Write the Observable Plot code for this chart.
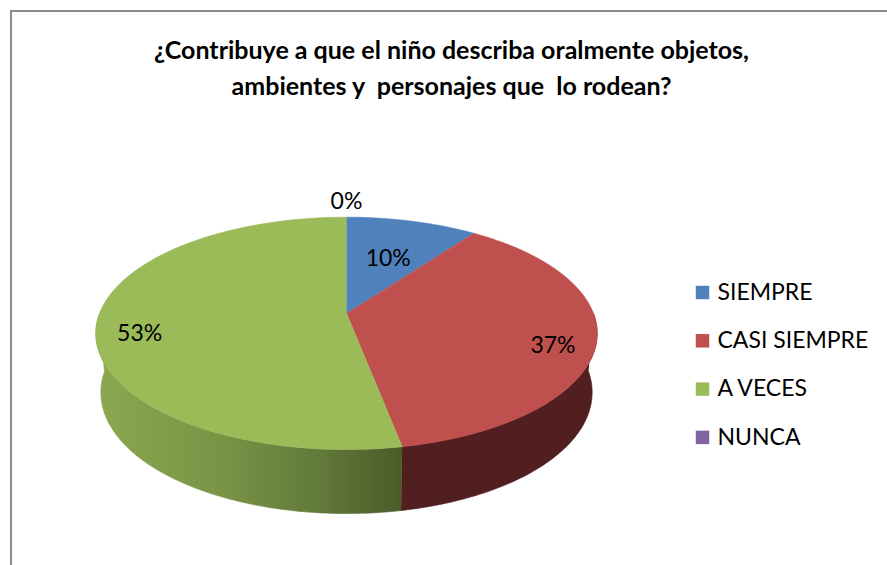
<!DOCTYPE html>
<html>
<head>
<meta charset="utf-8">
<script src="https://cdn.jsdelivr.net/npm/d3@7"></script>
<script src="https://cdn.jsdelivr.net/npm/@observablehq/plot@0.6"></script>
<style>
  html, body { margin: 0; padding: 0; background: #fff; }
  #wrap { position: relative; width: 887px; height: 565px; overflow: hidden; background: #fff; }
  #frame { position: absolute; left: 10px; top: 10px; width: 900px; height: 600px; border-left: 2px solid #8c8c8c; border-top: 2px solid #8c8c8c; }
  #title { position: absolute; left: 0; top: 31px; width: 903px; text-align: center; font-family: Lato, sans-serif; font-weight: bold; font-size: 25px; line-height: 36px; color: #000; white-space: pre; }
  #chart { position: absolute; left: 0; top: 110px; }
</style>
</head>
<body>
<div id="wrap">
  <div id="frame"></div>
  <div id="title"></div>
  <div id="chart"></div>
</div>
<script>
const titleLines = ["¿Contribuye a que el niño describa oralmente objetos,", "ambientes y  personajes que  lo rodean?"];
const categories = ["SIEMPRE", "CASI SIEMPRE", "A VECES", "NUNCA"];
const values = [10, 37, 53, 0];
const labels = ["10%", "37%", "53%", "0%"];
const colors = ["#4F81BD", "#C0504D", "#9BBB59", "#8064A2"];
const sideFills = ["#2c4a70", "#511F20", "url(#greenSide)", "#4a3a60"];

document.getElementById("title").textContent = titleLines.join("\n");

// geometry of the 3D ellipse (layout)
const W = 887, H = 565, top0 = 110;
const cx = 346, cy = 313, rx = 247, ay = 112.8, persp = 0.171;
const depth0 = 58, depth1 = 6, shrink = 0.98;

function proj(phiDeg, f = 1, bottom = false) {
  const p = phiDeg * Math.PI / 180;
  const u = Math.sin(p) * f, v = -Math.cos(p) * f;
  const s = 1 / (1 - persp * v);
  if (!bottom) return {x: cx + rx * u * s, y: cy + ay * v * s};
  return {x: cx + rx * shrink * u * s, y: cy + ay * v * s + depth0 + depth1 * v};
}
function arc(a0, a1, bottom) {
  const pts = [];
  const n = Math.max(2, Math.ceil(Math.abs(a1 - a0)));
  for (let i = 0; i <= n; i++) pts.push(proj(a0 + (a1 - a0) * i / n, 1, bottom));
  return pts;
}

const total = d3.sum(values);
let acc = 0;
const slices = values.map((v, i) => {
  const a0 = acc / total * 360;
  acc += v;
  const a1 = acc / total * 360;
  return {i, v, a0, a1};
});

const marks = [];
// sides
for (const s of slices) {
  const lo = Math.max(s.a0, 90), hi = Math.min(s.a1, 270);
  if (s.v > 0 && lo < hi) {
    const poly = [...arc(lo, hi, false), ...arc(hi, lo, true)];
    marks.push(Plot.line(poly, {x: "x", y: "y", fill: sideFills[s.i], stroke: sideFills[s.i], strokeWidth: 0.6}));
  }
}
// top faces
for (const s of slices) {
  if (s.v <= 0) continue;
  const poly = [{x: cx, y: cy}, ...arc(s.a0, s.a1, false)];
  marks.push(Plot.line(poly, {x: "x", y: "y", fill: colors[s.i], stroke: colors[s.i], strokeWidth: 0.6}));
}
// data labels
const labelData = slices.map(s => {
  const mid = (s.a0 + s.a1) / 2;
  const f = s.v === 0 ? 1.2 : (s.v < 15 ? 0.6 : 0.83);
  const p = proj(mid, f);
  const u = Math.abs(Math.sin(mid * Math.PI / 180));
  return {x: p.x, y: p.y + (s.v === 0 ? 0 : 11 * u), text: labels[s.i]};
});
marks.push(Plot.text(labelData, {x: "x", y: "y", text: "text", fontSize: 23, fontFamily: "Lato, sans-serif", fill: "#000", textAnchor: "middle", lineAnchor: "middle"}));

// legend
const legendData = categories.map((c, i) => ({name: c, color: colors[i], x: 702, y: 292 + i * 48.3}));
marks.push(Plot.dot(legendData, {x: "x", y: "y", symbol: "square", r: 7.6, fill: d => d.color, stroke: null}));
marks.push(Plot.text(legendData, {x: d => d.x + 15, y: "y", text: "name", textAnchor: "start", lineAnchor: "middle", fontSize: 23, fontFamily: "Lato, sans-serif", fill: "#000"}));

const plot = Plot.plot({
  width: W, height: H - top0,
  margin: 0,
  x: {domain: [0, W], range: [0, W], axis: null},
  y: {domain: [top0, H], range: [0, H - top0], axis: null},
  color: {type: "identity"},
  style: {background: "transparent", overflow: "visible"},
  marks
});

// gradient for the green side
const ns = "http://www.w3.org/2000/svg";
const defs = document.createElementNS(ns, "defs");
const lg = document.createElementNS(ns, "linearGradient");
lg.setAttribute("id", "greenSide");
lg.setAttribute("gradientUnits", "userSpaceOnUse");
lg.setAttribute("x1", proj(270).x); lg.setAttribute("x2", proj(slices[2].a0).x);
lg.setAttribute("y1", 0); lg.setAttribute("y2", 0);
[["0%", "#8ba750"], ["40%", "#7a9446"], ["72%", "#627a3a"], ["100%", "#4a5b29"]].forEach(([o, c]) => {
  const st = document.createElementNS(ns, "stop");
  st.setAttribute("offset", o); st.setAttribute("stop-color", c);
  lg.appendChild(st);
});
defs.appendChild(lg);
plot.insertBefore(defs, plot.firstChild);
document.getElementById("chart").appendChild(plot);
</script>
</body>
</html>
